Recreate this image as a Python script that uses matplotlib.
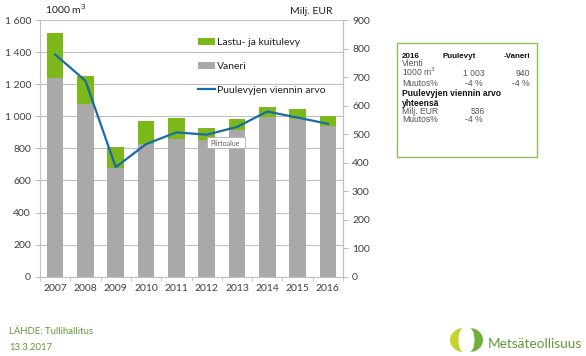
import numpy as np
import matplotlib
matplotlib.use("Agg")
import matplotlib.pyplot as plt
from matplotlib.patches import Rectangle, Polygon

years = ["2007", "2008", "2009", "2010", "2011", "2012", "2013", "2014", "2015", "2016"]
vaneri = [1236, 1078, 680, 827, 860, 852, 914, 993, 985, 940]
total = [1518, 1253, 808, 970, 990, 925, 984, 1060, 1043, 1003]
lastu = [t - v for t, v in zip(total, vaneri)]
arvo = [779, 687, 384, 465, 506, 498, 525, 579, 558, 536]

left_ticks = [0, 200, 400, 600, 800, 1000, 1200, 1400, 1600]
left_labels = ["0", "200", "400", "600", "800", "1 000", "1 200", "1 400", "1 600"]
right_ticks = [0, 100, 200, 300, 400, 500, 600, 700, 800, 900]

GREEN = "#7db81b"
GRAY = "#a9a9a9"
BLUE = "#1a6aa3"
TXT = "#404040"
GRID = "#c0c0c0"

plt.rcParams['font.family'] = ['Lato', 'DejaVu Sans']

W, H = 586, 356
fig = plt.figure(figsize=(W / 100, H / 100), dpi=100)

def fx(x):
    return x / W

def fy(y):
    return 1 - y / H

ax = fig.add_axes([fx(40), fy(276.7), fx(343) - fx(40), fy(20) - fy(276.7)])
x = np.arange(len(years))
ax.bar(x, vaneri, width=0.55, color=GRAY, zorder=2, label="Vaneri")
ax.bar(x, lastu, bottom=vaneri, width=0.55, color=GREEN, zorder=2, label="Lastu- ja kuitulevy")
ax.set_xlim(-0.5, len(years) - 0.5)
ax.set_ylim(0, 1600)
ax.set_yticks(left_ticks)
ax.set_yticklabels(left_labels)
ax.set_xticks(x)
ax.set_xticklabels(years)
ax.set_xticks(np.arange(-0.5, len(years), 1), minor=True)
ax.tick_params(axis='x', which='major', length=0, labelsize=7.5, colors=TXT, pad=5)
ax.tick_params(axis='x', which='minor', length=3, color=GRID, direction='out')
ax.tick_params(axis='y', length=3.5, color=GRID, labelsize=7.5, labelcolor=TXT, pad=3)
ax.yaxis.grid(True, color=GRID, linewidth=0.8, zorder=0)
ax.set_axisbelow(True)
ax.spines['top'].set_visible(False)
for s in ['left', 'right', 'bottom']:
    ax.spines[s].set_color(GRID)
    ax.spines[s].set_linewidth(0.8)

ax2 = ax.twinx()
ax2.plot(x, arvo, color=BLUE, linewidth=1.6, zorder=3, label="Puulevyjen viennin arvo")
ax2.set_ylim(0, 900)
ax2.set_yticks(right_ticks)
ax2.tick_params(axis='y', length=3.5, color=GRID, labelsize=7.5, labelcolor=TXT, pad=3)
for s in ['top', 'left']:
    ax2.spines[s].set_visible(False)
ax2.spines['right'].set_color(GRID)
ax2.spines['bottom'].set_visible(False)

# legend
h1, l1 = ax.get_legend_handles_labels()
h2, l2 = ax2.get_legend_handles_labels()
handles = [h1[1], h1[0], h2[0]]
labels = [l1[1], l1[0], l2[0]]
leg = fig.legend(handles, labels, loc='upper left', bbox_to_anchor=(fx(189), fy(29)),
                 frameon=False, fontsize=7.5, labelspacing=1.42, handlelength=1.6,
                 handleheight=0.6, handletextpad=0.2, labelcolor="#202020")

fig.text(fx(45), fy(14), "1000 m$^3$", fontsize=7.5, color="#202020", va='baseline')
fig.text(fx(332), fy(14), "Milj. EUR", fontsize=7.5, color="#202020", va='baseline', ha='right')

# tooltip
fig.patches.append(Rectangle((fx(207), fy(148)), fx(245) - fx(207), fy(137) - fy(148),
                             transform=fig.transFigure, facecolor='white', edgecolor='#b0b0b0',
                             linewidth=0.6, zorder=5))
fig.text(fx(210), fy(145.5), "Piirtoalue", fontsize=5, color='#606060', zorder=6, va='baseline')

# table box
fig.patches.append(Rectangle((fx(397), fy(157)), fx(537) - fx(397), fy(43) - fy(157),
                             transform=fig.transFigure, facecolor='white', edgecolor='#8fbf5a',
                             linewidth=1.0))
tf = ['Liberation Sans', 'DejaVu Sans']
def t(xp, yp, s, ha='left', bold=False, size=6.2, c='#555555'):
    fig.text(fx(xp), fy(yp), s, fontsize=size, ha=ha, va='baseline', family=tf,
             fontweight='bold' if bold else 'normal', color='#111111' if bold else c)

t(402, 57.5, "2016", bold=True, size=5.8)
t(476, 57.5, "Puulevyt", ha='right', bold=True, size=5.8)
t(530, 57.5, "-Vaneri", ha='right', bold=True, size=5.8)
t(402, 65.5, "Vienti")
t(402, 76.5, "1000 m$^3$")
t(485, 76.5, "1 003", ha='right')
t(530, 76.5, "940", ha='right')
t(402, 86.5, "Muutos%")
t(483, 86.5, "-4 %", ha='right')
t(530, 86.5, "-4 %", ha='right')
t(402, 96.5, "Puulevyjen viennin arvo", bold=True, size=6.2)
t(402, 106, "yhteensä", bold=True, size=6.2)
t(402, 114.5, "Milj. EUR")
t(485, 114.5, "536", ha='right')
t(402, 122.5, "Muutos%")
t(483, 122.5, "-4 %", ha='right')

# footer
fig.text(fx(9), fy(334), "LÄHDE: Tullihallitus", fontsize=6.8, color='#5f9a35', va='baseline')
fig.text(fx(9), fy(350), "13.3.2017", fontsize=6.8, color='#5f9a35', va='baseline')

# logo
tt = np.linspace(-np.pi / 2, np.pi / 2, 60)
cy, ry = 340, 12
cxl = 463.5
outer_l = [(cxl - 13.5 * np.cos(a), cy + ry * np.sin(a)) for a in tt]
inner_l = [(cxl - 5 * np.cos(a), cy + ry * np.sin(a)) for a in tt[::-1]]
pts = [(fx(px), fy(py)) for px, py in outer_l + inner_l]
fig.patches.append(Polygon(pts, closed=True, transform=fig.transFigure, facecolor='#c6d42a', edgecolor='none'))
cxr = 469.5
outer_r = [(cxr + 13.5 * np.cos(a), cy + ry * np.sin(a)) for a in tt]
inner_r = [(cxr + 5 * np.cos(a), cy + ry * np.sin(a)) for a in tt[::-1]]
pts = [(fx(px), fy(py)) for px, py in outer_r + inner_r]
fig.patches.append(Polygon(pts, closed=True, transform=fig.transFigure, facecolor='#6fb03a', edgecolor='none'))
fig.text(fx(488), fy(348), "Metsäteollisuus", fontsize=9.8, color='#5f9a35', va='baseline')

fig.savefig("out.png", dpi=100)
